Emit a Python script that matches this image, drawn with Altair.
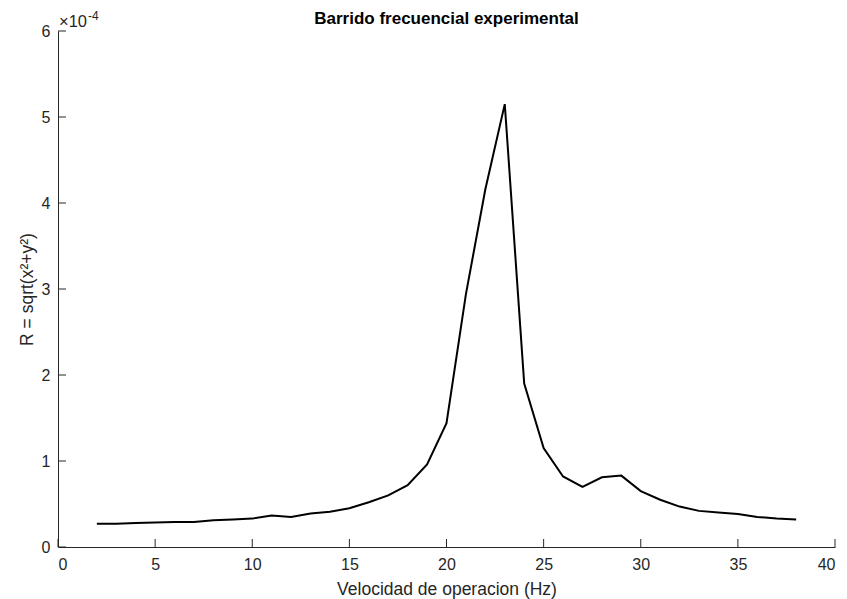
import altair as alt
import pandas as pd

# Frequency sweep: operating speed (Hz) vs response magnitude R (in units of 1e-4)
freq_hz = list(range(2, 39))
r_e4 = [0.27, 0.27, 0.28, 0.285, 0.29, 0.29, 0.31, 0.32, 0.33, 0.365,
        0.35, 0.39, 0.41, 0.45, 0.52, 0.60, 0.72, 0.96, 1.44, 2.94,
        4.16, 5.15, 1.90, 1.15, 0.82, 0.70, 0.81, 0.83, 0.65, 0.55,
        0.47, 0.42, 0.40, 0.385, 0.35, 0.33, 0.32]

x_ticks = [0, 5, 10, 15, 20, 25, 30, 35, 40]
y_ticks = [0, 1, 2, 3, 4, 5, 6]

W, H = 777, 516
FONT = "Liberation Sans"
AXIS_COLOR = "#262626"
TICK_LEN = 8

sweep = pd.DataFrame({"f": freq_hz, "r": r_e4})
xt = pd.DataFrame({"t": x_ticks})
yt = pd.DataFrame({"t": y_ticks})
one = pd.DataFrame({"k": [0]})

x_scale = alt.Scale(domain=[0, 40], nice=False, zero=False)
y_scale = alt.Scale(domain=[0, 6], nice=False, zero=False)

line = alt.Chart(sweep).mark_line(color="black", strokeWidth=2).encode(
    x=alt.X("f:Q", scale=x_scale,
            axis=alt.Axis(values=x_ticks, format="d",
                          title="Velocidad de operacion (Hz)",
                          ticks=False, grid=False, labelPadding=9,
                          titlePadding=8)),
    y=alt.Y("r:Q", scale=y_scale,
            axis=alt.Axis(values=y_ticks, format="d", title="R = sqrt(x²+y²)",
                          ticks=False, grid=False, labelPadding=8,
                          titlePadding=5)),
)

# inward-pointing tick marks on both axes
x_tick_marks = alt.Chart(xt).mark_rule(color=AXIS_COLOR, strokeWidth=1).encode(
    x=alt.X("t:Q", scale=x_scale),
    y=alt.value(H), y2=alt.value(H - TICK_LEN),
)

y_tick_marks = alt.Chart(yt).mark_rule(color=AXIS_COLOR, strokeWidth=1).encode(
    y=alt.Y("t:Q", scale=y_scale),
    x=alt.value(0), x2=alt.value(TICK_LEN),
)

# exponent multiplier above the y axis
times_ten = alt.Chart(one).mark_text(
    text="×10", align="left", baseline="alphabetic", font=FONT,
    fontSize=16.5, color=AXIS_COLOR
).encode(x=alt.value(1), y=alt.value(-4))

exponent = alt.Chart(one).mark_text(
    text="-4", align="left", baseline="alphabetic", font=FONT,
    fontSize=12, color=AXIS_COLOR
).encode(x=alt.value(30), y=alt.value(-11))

# chart title centred over the plot area
title = alt.Chart(one).mark_text(
    text="Barrido frecuencial experimental", align="center",
    baseline="alphabetic", font=FONT, fontSize=17, fontWeight="bold",
    color="black"
).encode(x=alt.value(W / 2), y=alt.value(-7))

chart = alt.layer(
    line, x_tick_marks, y_tick_marks, times_ten, exponent, title
).properties(
    width=W, height=H,
    autosize=alt.AutoSizeParams(type="none"),
    padding={"left": 58, "top": 31, "right": 12, "bottom": 52},
).configure_view(stroke=None).configure_axis(
    domainColor=AXIS_COLOR, domainWidth=1,
    labelFont=FONT, labelFontSize=16, labelColor=AXIS_COLOR,
    titleFont=FONT, titleFontSize=17.5, titleColor=AXIS_COLOR,
    titleFontWeight="normal",
)

chart.save("out.html", embed_options={"renderer": "svg", "actions": False})
